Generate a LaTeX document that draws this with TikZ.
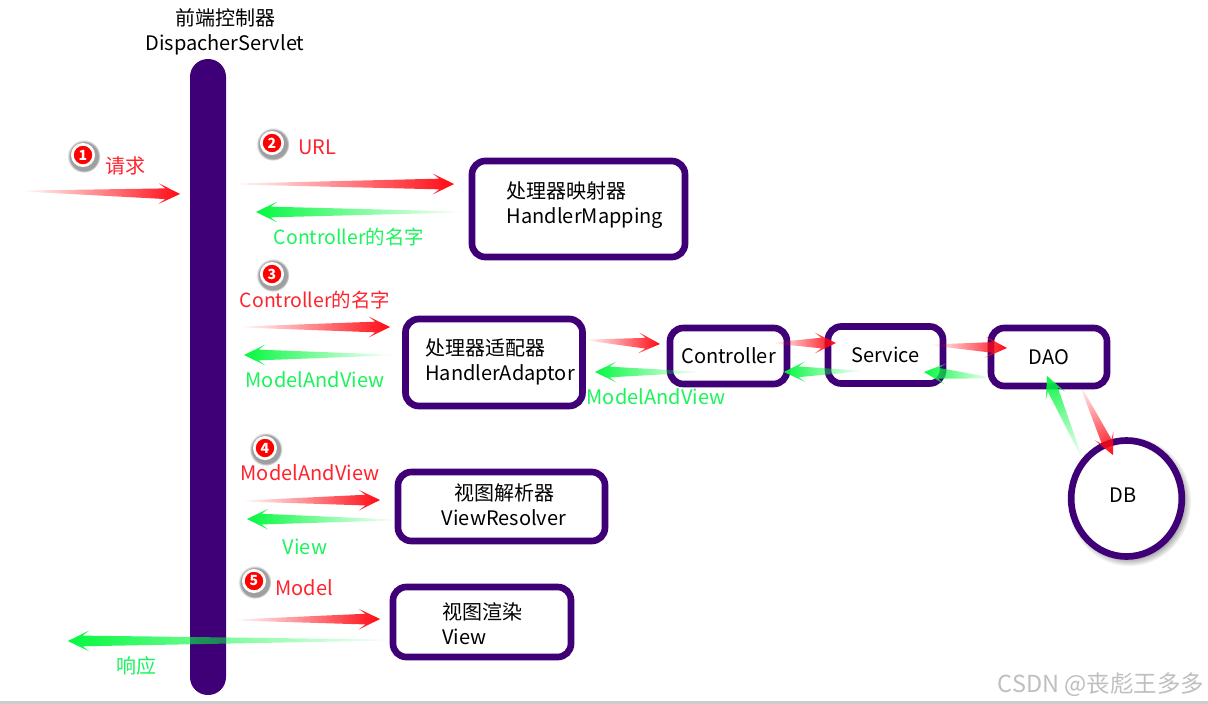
\documentclass[tikz,border=0pt]{standalone}
\usepackage{fontspec}
\setmainfont{Noto Sans CJK SC}
\usetikzlibrary{calc,fadings,shadows,shapes.geometric}

\definecolor{barpurple}{RGB}{63,0,119}
\definecolor{flowred}{RGB}{255,10,20}
\definecolor{flowgreen}{RGB}{5,248,65}
\definecolor{textred}{RGB}{255,35,45}
\definecolor{textgreen}{RGB}{25,245,90}

\tikzfading[name=tailfade, left color=transparent!100, middle color=transparent!25, right color=transparent!0]

\tikzset{
  box/.style 2 args={draw=barpurple, line width=5pt, rounded corners=10pt, fill=white, inner sep=0pt,
    minimum width=#1*0.75pt, minimum height=#2*0.75pt, font=\fontsize{15}{19}\selectfont},
  boxtext/.style={align=left, inner sep=0pt, font=\fontsize{15}{18.5}\selectfont},
  redtext/.style={text=textred, inner sep=0pt, font=\fontsize{15}{18}\selectfont},
  greentext/.style={text=textgreen, inner sep=0pt, font=\fontsize{15}{18}\selectfont},
  badge/.style={circle, fill=red, draw=white, line width=2pt, minimum size=16pt, inner sep=0pt, text=white,
    font=\fontsize{10.5}{10.5}\selectfont\bfseries,
    circular drop shadow={shadow scale=1.55, shadow xshift=0.4pt, shadow yshift=-0.6pt, opacity=0.75}}
}

% gradient arrow between two named points
\newcommand{\flowarrow}[3]{%
  \path let \p1=($(#3)-(#2)$), \n1={atan2(\y1,\x1)}, \n2={veclen(\x1,\y1)} in
    \pgfextra{\xdef\flowangle{\n1}\xdef\flowlen{\n2}};
  \begin{scope}[transform canvas={shift={(#2)},rotate=\flowangle}]
    \fill[#1, path fading=tailfade] (0pt,0.3pt) -- (\flowlen-11pt,4pt) -- (\flowlen-16pt,7.8pt)
      -- (\flowlen,0pt) -- (\flowlen-16pt,-7.8pt) -- (\flowlen-11pt,-4pt) -- (0pt,-0.3pt) -- cycle;
  \end{scope}
}

\begin{document}
\begin{tikzpicture}[x=0.75pt, y=-0.75pt]
    \useasboundingbox (0,0) rectangle (1208,704);
    \fill[white] (0,0) rectangle (1208,704);
    \fill[black!20] (0,701) rectangle (1208,704);

    % front controller
    \node[fill=barpurple, rounded corners=13.4pt, inner sep=0pt, minimum width=27pt, minimum height=477pt] (dispatcher) at (208,377) {};
    \node[align=center, inner sep=0pt, font=\fontsize{15}{19}\selectfont] (dispatchertext) at (225,32) {前端控制器\\DispacherServlet};

    % boxes
    \node[box={213}{96}] (mapping) at (578.5,209) {};
    \node[boxtext] (mappingtext) at (585,205) {处理器映射器\\HandlerMapping};
    \node[box={177}{87}] (adaptor) at (494,362.5) {};
    \node[boxtext] (adaptortext) at (500,362) {处理器适配器\\HandlerAdaptor};
    \node[box={207}{69}] (resolver) at (501.5,506.5) {};
    \node[boxtext, align=center] (resolvertext) at (504,505) {视图解析器\\ViewResolver};
    \node[box={178}{70}] (view) at (482,622) {};
    \node[boxtext] (viewtext) at (482,624) {视图渲染\\View};
    \node[box={117}{56}] (controller) at (728.5,356) {Controller};
    \node[box={115}{57}] (service) at (885.5,355) {Service};
    \node[box={116}{58}] (dao) at (1049,357) {DAO};
    \node[ellipse, draw=barpurple, fill=white, line width=5pt, minimum width=83pt, minimum height=87pt, inner sep=0pt,
      circular drop shadow={shadow scale=1.12, shadow xshift=1.8pt, shadow yshift=-1.8pt, opacity=0.8}] (db) at (1126.5,498.5) {};
    \node[boxtext] (dbtext) at (1123,495) {DB};

    % step numbers
    \node[badge] (stepa) at (83,155) {1};
    \node[badge] (stepb) at (272,143) {2};
    \node[badge] (stepc) at (272,274) {3};
    \node[badge] (stepd) at (265,448) {4};
    \node[badge] (stepe) at (254,581) {5};

    % labels
    \node[redtext] (labelrequest) at (125,166) {请求};
    \node[redtext] (labelurl) at (317,147) {URL};
    \node[greentext, font=\fontsize{14.6}{18}\selectfont] (labelname) at (349,237) {Controller的名字};
    \node[redtext, font=\fontsize{14.6}{18}\selectfont] (labelnamered) at (315,300) {Controller的名字};
    \node[greentext] (labelmav) at (315,380) {ModelAndView};
    \node[greentext] (labelmavb) at (656,397) {ModelAndView};
    \node[redtext] (labelmavred) at (310,473) {ModelAndView};
    \node[greentext] (labelview) at (305,547) {View};
    \node[redtext] (labelmodel) at (304,588) {Model};
    \node[greentext] (labelresponse) at (136,666) {响应};
    \node[text=black!25, inner sep=0pt, font=\fontsize{17.6}{20}\selectfont] (watermark) at (1101,685) {CSDN @丧彪王多多};

    % arrow ends
    \coordinate (ra1) at (22,191);     \coordinate (ra2) at (180,194);
    \coordinate (rb1) at (232,184);    \coordinate (rb2) at (454,184);
    \coordinate (gb1) at (464,212);    \coordinate (gb2) at (256,212);
    \coordinate (rc1) at (240,327);    \coordinate (rc2) at (390,327);
    \coordinate (gc1) at (391,355);    \coordinate (gc2) at (244,355);
    \coordinate (rd1) at (242,501);    \coordinate (rd2) at (380,500);
    \coordinate (gd1) at (396,520);    \coordinate (gd2) at (247,519);
    \coordinate (re1) at (234,620);    \coordinate (re2) at (380,619);
    \coordinate (ge1) at (396,640);    \coordinate (ge2) at (68,641);
    \coordinate (rf1) at (586,340);    \coordinate (rf2) at (660,344);
    \coordinate (gf1) at (699,372);    \coordinate (gf2) at (595,372);
    \coordinate (rg1) at (773,343);    \coordinate (rg2) at (836,343);
    \coordinate (gg1) at (861,371);    \coordinate (gg2) at (784,372);
    \coordinate (rh1) at (931,345);    \coordinate (rh2) at (1007,348);
    \coordinate (gh1) at (992,378);    \coordinate (gh2) at (924,372);
    \coordinate (ri1) at (1080,385);   \coordinate (ri2) at (1113,455);
    \coordinate (gi1) at (1082,458);   \coordinate (gi2) at (1047,376);

    \foreach \a/\b in {ra1/ra2,rb1/rb2,rc1/rc2,rd1/rd2,re1/re2,rf1/rf2,rg1/rg2,rh1/rh2,ri1/ri2}
      {\flowarrow{flowred}{\a}{\b}}
    \foreach \a/\b in {gb1/gb2,gc1/gc2,gd1/gd2,ge1/ge2,gf1/gf2,gg1/gg2,gh1/gh2,gi1/gi2}
      {\flowarrow{flowgreen}{\a}{\b}}
\end{tikzpicture}
\end{document}
